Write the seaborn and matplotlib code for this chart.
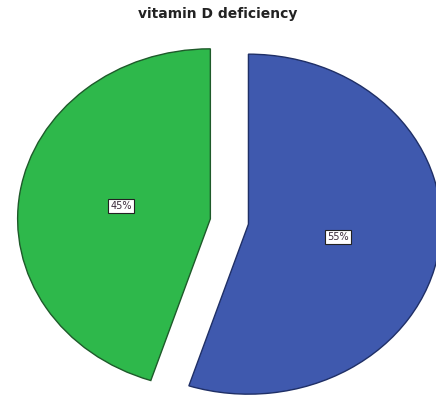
import matplotlib
matplotlib.use("Agg")
import matplotlib.pyplot as plt
import seaborn as sns

# data
categories = ["deficient", "not deficient"]
percentages = [55, 45]
colors = ["#3F59AE", "#2EB84B"]
edge_colors = ["#1F2F66", "#1E5A2A"]

sns.set_theme(style="white")
plt.rcParams["font.family"] = ["DejaVu Sans"]

fig = plt.figure(figsize=(4.36, 3.95), dpi=100)
ax = fig.add_axes([3.9 / 436, -22 / 395, 451 / 436, 391 / 395])

wedges, texts, autotexts = ax.pie(
    percentages,
    colors=colors,
    explode=[0.1, 0.1],
    startangle=90,
    counterclock=False,
    autopct="%d%%",
    pctdistance=0.47,
    textprops={"fontsize": 7, "color": "#3a2a3a"},
)
for w, ec in zip(wedges, edge_colors):
    w.set_edgecolor(ec)
    w.set_linewidth(1.0)
for t in autotexts:
    t.set_bbox(dict(facecolor="white", edgecolor="#222222", linewidth=0.8, pad=1.5))

ax.set_aspect("auto")
ax.set_xlim(-1.17, 1.17)
ax.set_ylim(-1.15, 1.15)
ax.axis("off")

fig.text(0.5, 1 - 14 / 395, "vitamin D deficiency", ha="center", va="center",
         fontsize=10, fontweight="bold", color="#222222")

fig.savefig("out.png", dpi=100)
